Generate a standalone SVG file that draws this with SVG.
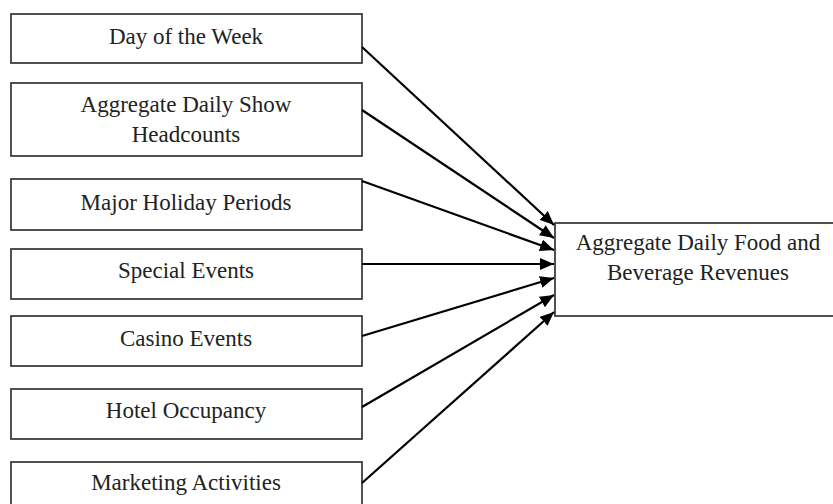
<svg xmlns="http://www.w3.org/2000/svg" width="833" height="504" viewBox="0 0 833 504">
<style>
.box{fill:#fff;stroke:#333;stroke-width:1.7}
.lbl{font-family:"Liberation Serif","Times New Roman",serif;font-size:23px;fill:#222;text-anchor:middle}
.con{stroke:#000;stroke-width:2.2;fill:none;marker-end:url(#ah)}
</style>
<defs>
<marker id="ah" markerUnits="userSpaceOnUse" markerWidth="15" markerHeight="12" refX="14" refY="6" orient="auto">
<path d="M0,0 L14,6 L0,12 Z" fill="#000"/>
</marker>
</defs>
<rect width="833" height="504" fill="#fff"/>
<g id="n1"><rect class="box" x="11" y="14" width="351" height="49"/><text class="lbl" x="186" y="44">Day of the Week</text></g>
<g id="n2"><rect class="box" x="11" y="83" width="351" height="73"/><text class="lbl" x="186" y="112">Aggregate Daily Show</text><text class="lbl" x="186" y="142">Headcounts</text></g>
<g id="n3"><rect class="box" x="11" y="179" width="351" height="51"/><text class="lbl" x="186" y="210">Major Holiday Periods</text></g>
<g id="n4"><rect class="box" x="11" y="249" width="351" height="50"/><text class="lbl" x="186" y="278">Special Events</text></g>
<g id="n5"><rect class="box" x="11" y="316" width="351" height="50"/><text class="lbl" x="186" y="346">Casino Events</text></g>
<g id="n6"><rect class="box" x="11" y="389" width="351" height="50"/><text class="lbl" x="186" y="418">Hotel Occupancy</text></g>
<g id="n7"><rect class="box" x="11" y="462" width="351" height="50"/><text class="lbl" x="186" y="490">Marketing Activities</text></g>
<g id="target"><rect class="box" x="555" y="223" width="280" height="93"/><text class="lbl" x="698" y="250">Aggregate Daily Food and</text><text class="lbl" x="698" y="280">Beverage Revenues</text></g>
<g id="connectors">
<line class="con" x1="362" y1="47" x2="554" y2="225"/>
<line class="con" x1="362" y1="110" x2="554" y2="238"/>
<line class="con" x1="362" y1="181" x2="554" y2="250"/>
<line class="con" x1="362" y1="264" x2="554" y2="264"/>
<line class="con" x1="362" y1="336" x2="554" y2="278"/>
<line class="con" x1="362" y1="407" x2="554" y2="295"/>
<line class="con" x1="362" y1="483" x2="554" y2="312"/>
</g>
</svg>
